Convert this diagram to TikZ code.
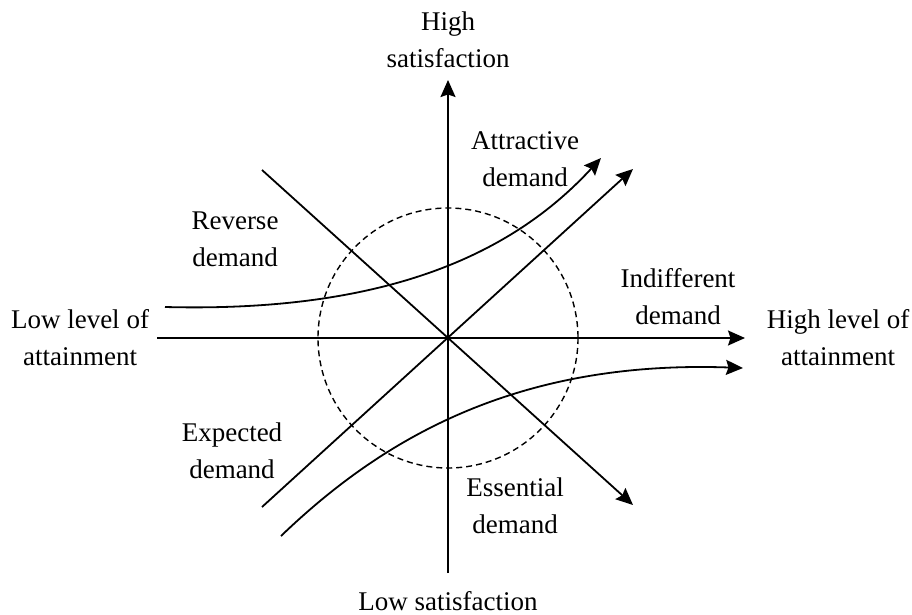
\documentclass[tikz,border=0pt]{standalone}
\usepackage{fontspec}
\setmainfont{Liberation Serif}
\usetikzlibrary{arrows.meta}
\begin{document}
\begin{tikzpicture}[x=1pt,y=-1pt,
  lbl/.style={align=center,font=\fontsize{27}{37}\selectfont,inner sep=0pt},
  ln/.style={line width=1.8pt},
  arr/.style={ln,-{Stealth[length=17pt,width=15pt,inset=2.5pt]}}]
\useasboundingbox (0,0) rectangle (912,615);
% coordinates
\coordinate (O) at (448,338);
\coordinate (vtop) at (448,80);
\coordinate (vbot) at (448,573);
\coordinate (hl) at (157,338);
\coordinate (hr) at (745,338);
\coordinate (d1s) at (262,170);
\coordinate (d1e) at (633,505);
\coordinate (d2s) at (262,507);
\coordinate (d2e) at (633,169);
\coordinate (c1s) at (165,307);
\coordinate (c1e) at (601,158);
\coordinate (c2s) at (281,536);
\coordinate (c2e) at (743,368);
% axes
\draw[arr] (vbot) -- (vtop);
\draw[arr] (hl) -- (hr);
\draw[arr] (d1s) -- (d1e);
\draw[arr] (d2s) -- (d2e);
\draw[arr] (c1s) .. controls (360,312) and (500,268) .. (c1e);
\draw[arr] (c2s) .. controls (385,436) and (520,360) .. (c2e);
\draw[line width=1.4pt,dash pattern=on 6pt off 4pt] (O) circle[radius=130];
% labels
\node[lbl] (hs) at (448,40) {High\\satisfaction};
\node[lbl,anchor=base] (ls) at (448,610) {Low satisfaction};
\node[lbl] (ll) at (80,338) {Low level of\\attainment};
\node[lbl] (hla) at (838,338) {High level of\\attainment};
\node[lbl] (att) at (525,159) {Attractive\\demand};
\node[lbl] (rev) at (235,239) {Reverse\\demand};
\node[lbl] (ind) at (678,297) {Indifferent\\demand};
\node[lbl] (exp) at (232,451) {Expected\\demand};
\node[lbl] (ess) at (515,506) {Essential\\demand};
\end{tikzpicture}
\end{document}
